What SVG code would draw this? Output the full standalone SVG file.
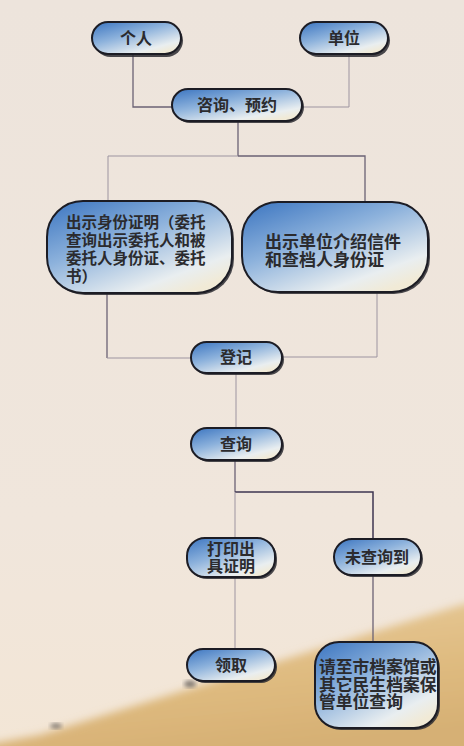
<svg xmlns="http://www.w3.org/2000/svg" width="464" height="746" viewBox="0 0 464 746">
<defs>
<linearGradient id="bg" x1="0" y1="0" x2="0" y2="1">
<stop offset="0" stop-color="#ede4dc"/>
<stop offset="0.7" stop-color="#f0e6dc"/>
<stop offset="1" stop-color="#f3e6d6"/>
</linearGradient>
<linearGradient id="gold" x1="0" y1="0" x2="0.3" y2="1">
<stop offset="0" stop-color="#e8cc9c"/>
<stop offset="0.6" stop-color="#dfbb80"/>
<stop offset="1" stop-color="#d6b074"/>
</linearGradient>
<linearGradient id="node" x1="0" y1="0" x2="0.75" y2="1">
<stop offset="0" stop-color="#3a74c0"/>
<stop offset="0.45" stop-color="#8db2dc"/>
<stop offset="0.85" stop-color="#e9eef0"/>
<stop offset="1" stop-color="#f1ead6"/>
</linearGradient>
<filter id="soft" x="-10%" y="-10%" width="120%" height="120%">
<feGaussianBlur stdDeviation="4"/>
</filter>
<filter id="blob"><feGaussianBlur stdDeviation="2"/></filter>
<style>
.n{fill:url(#node);stroke:#1c1c24;stroke-width:2}
.sh{fill:#2a2a30;opacity:0.85}
.t{font-family:"Noto Sans CJK SC","Noto Sans",sans-serif;font-weight:bold;fill:#2b2b2e;font-size:16px}
.c{text-anchor:middle}
.l{fill:none;stroke:#6b6274;stroke-width:1.3}
.lf{fill:none;stroke:#9d94a0;stroke-width:1}
.ld{fill:none;stroke:#3e3650;stroke-width:1.5}
</style>
</defs>
<rect width="464" height="746" fill="url(#bg)"/>
<path d="M-10 760 L-10 744 L40 735 L464 604 L474 604 L474 760 Z" fill="url(#gold)" filter="url(#soft)"/>
<ellipse cx="190" cy="684" rx="6" ry="3.5" fill="#6b6560" filter="url(#blob)" opacity="0.8"/>
<ellipse cx="56" cy="726" rx="6" ry="3" fill="#6b6560" filter="url(#blob)" opacity="0.7"/>

<g id="connectors">
<path class="l" d="M133 55 V107 H172"/>
<path class="lf" d="M349 55 V107 H302"/>
<path class="l" d="M238 121 V156"/>
<path class="lf" d="M108 156 H238"/>
<path class="l" d="M238 156 H365 V203"/>
<path class="lf" d="M108 156 V201"/>
<path class="l" d="M107 293 V358"/>
<path class="lf" d="M107 358 H191"/>
<path class="lf" d="M377 293 V357 H282"/>
<path class="lf" d="M236 373 V428"/>
<path class="l" d="M235 460 V492"/>
<path class="ld" d="M235 492 H373 V539"/>
<path class="lf" d="M235 492 V538"/>
<path class="lf" d="M235 577 V649"/>
<path class="l" d="M373 575 V642"/>
</g>

<g id="n-geren">
<rect class="sh" x="94" y="24" width="89" height="33" rx="16.5"/>
<rect class="n" x="92" y="22" width="89" height="32" rx="16"/>
<text class="t c" x="136" y="44">个人</text>
</g>
<g id="n-danwei">
<rect class="sh" x="302" y="24" width="88" height="33" rx="16.5"/>
<rect class="n" x="300" y="22" width="88" height="32" rx="16"/>
<text class="t c" x="344" y="44">单位</text>
</g>
<g id="n-zixun">
<rect class="sh" x="174" y="91" width="130" height="32" rx="16"/>
<rect class="n" x="172" y="89" width="130" height="32" rx="16"/>
<text class="t c" x="237" y="111">咨询、预约</text>
</g>
<g id="n-geren-doc">
<rect class="sh" x="49" y="203" width="185" height="92" rx="36"/>
<rect class="n" x="47" y="201" width="185" height="92" rx="36"/>
<text class="t" style="font-size:15.5px"><tspan x="66" y="228">出示身份证明（委托</tspan><tspan x="66" y="246">查询出示委托人和被</tspan><tspan x="66" y="264">委托人身份证、委托</tspan><tspan x="66" y="282">书）</tspan></text>
</g>
<g id="n-danwei-doc">
<rect class="sh" x="244" y="204" width="186" height="90" rx="36"/>
<rect class="n" x="242" y="202" width="186" height="90" rx="36"/>
<text class="t" style="font-size:17px"><tspan x="265" y="248">出示单位介绍信件</tspan><tspan x="265" y="266">和查档人身份证</tspan></text>
</g>
<g id="n-dengji">
<rect class="sh" x="193" y="344" width="91" height="31" rx="15.5"/>
<rect class="n" x="191" y="342" width="91" height="31" rx="15.5"/>
<text class="t c" x="236" y="363">登记</text>
</g>
<g id="n-chaxun">
<rect class="sh" x="193" y="430" width="91" height="32" rx="16"/>
<rect class="n" x="191" y="428" width="91" height="32" rx="16"/>
<text class="t c" x="236" y="450">查询</text>
</g>
<g id="n-dayin">
<rect class="sh" x="189" y="540" width="88" height="39" rx="18"/>
<rect class="n" x="187" y="538" width="88" height="39" rx="18"/>
<text class="t c"><tspan x="231" y="555">打印出</tspan><tspan x="231" y="572">具证明</tspan></text>
</g>
<g id="n-weichadao">
<rect class="sh" x="336" y="541" width="87" height="36" rx="18"/>
<rect class="n" x="334" y="539" width="87" height="36" rx="18"/>
<text class="t c" x="377" y="563">未查询到</text>
</g>
<g id="n-lingqu">
<rect class="sh" x="189" y="651" width="88" height="32" rx="16"/>
<rect class="n" x="187" y="649" width="88" height="32" rx="16"/>
<text class="t c" x="231" y="671">领取</text>
</g>
<g id="n-qingzhi">
<rect class="sh" x="317" y="644" width="123" height="86" rx="24"/>
<rect class="n" x="315" y="642" width="123" height="86" rx="24"/>
<text class="t" style="font-size:16.8px"><tspan x="319" y="673">请至市档案馆或</tspan><tspan x="319" y="690.5">其它民生档案保</tspan><tspan x="319" y="708">管单位查询</tspan></text>
</g>
</svg>
